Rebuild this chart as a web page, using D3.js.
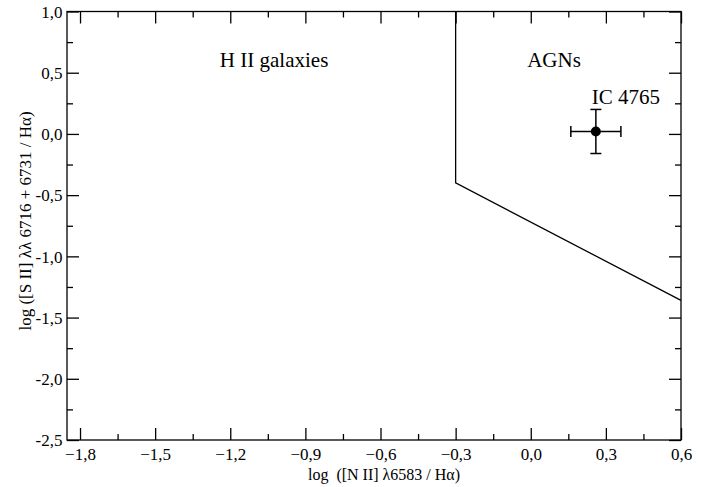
<!DOCTYPE html>
<html>
<head>
<meta charset="utf-8">
<script src="https://cdn.jsdelivr.net/npm/d3@7"></script>
<style>
  body { margin: 0; background: #fff; }
  text { font-family: "Liberation Serif", "DejaVu Serif", serif; fill: #000; }
</style>
</head>
<body>
<svg id="chart" width="724" height="487"></svg>
<script>
// axis ticks
const xTicks = [-1.8, -1.5, -1.2, -0.9, -0.6, -0.3, 0.0, 0.3, 0.6];
const xMinor = [-1.65, -1.35, -1.05, -0.75, -0.45, -0.15, 0.15, 0.45];
const yTicks = [1.0, 0.5, 0.0, -0.5, -1.0, -1.5, -2.0, -2.5];
const yMinor = [0.75, 0.25, -0.25, -0.75, -1.25, -1.75, -2.25];

// HII / AGN dividing line
const boundaryX = [-0.3, -0.3, 0.6];
const boundaryY = [1.0, -0.4, -1.36];

// regions
const regionNames = ["H II galaxies", "AGNs"];
const regionX = [-1.025, 0.093];
const regionY = [0.55, 0.55];

// measured object
const objName = ["IC 4765"];
const objX = [0.26];
const objY = [0.02];
const objErrX = [0.1];
const objErrY = [0.18];
const objLabelX = [0.38];
const objLabelY = [0.245];

const serif = '"Liberation Serif", "DejaVu Serif", serif';
const svg = d3.select("#chart");
const plotLeft = 67, plotRight = 681, plotTop = 11.5, plotBottom = 440;

const x = d3.scaleLinear().domain([-1.852, 0.6]).range([plotLeft, plotRight]);
const y = d3.scaleLinear().domain([-2.5, 1.0]).range([plotBottom, plotTop]);

const fmtX = d => (d < 0 ? "\u2212" : "") + Math.abs(d).toFixed(1).replace(".", ",");
const fmtY = d => (d < 0 ? "-" : "") + Math.abs(d).toFixed(1).replace(".", ",");

function styleAxis(g) {
  g.attr("font-family", serif).attr("font-size", 17);
  g.select(".domain").remove();
  g.selectAll("line").attr("stroke", "#000").attr("stroke-width", 1.3);
}

// major ticks, labelled on bottom and left
svg.append("g").attr("transform", `translate(0,${plotBottom})`)
  .call(d3.axisBottom(x).tickValues(xTicks).tickSizeInner(-12).tickPadding(20).tickFormat(fmtX))
  .call(styleAxis)
  .call(g => g.selectAll("text").attr("dy", 0));
svg.append("g").attr("transform", `translate(0,${plotBottom})`)
  .call(d3.axisBottom(x).tickValues(xMinor).tickSizeInner(-6).tickFormat(""))
  .call(styleAxis);
svg.append("g").attr("transform", `translate(0,${plotTop})`)
  .call(d3.axisTop(x).tickValues(xTicks).tickSizeInner(-12).tickFormat(""))
  .call(styleAxis);
svg.append("g").attr("transform", `translate(0,${plotTop})`)
  .call(d3.axisTop(x).tickValues(xMinor).tickSizeInner(-6).tickFormat(""))
  .call(styleAxis);

svg.append("g").attr("transform", `translate(${plotLeft},0)`)
  .call(d3.axisLeft(y).tickValues(yTicks).tickSizeInner(-12).tickFormat(fmtY))
  .call(styleAxis)
  .call(g => g.selectAll("text").attr("x", -4.5).attr("dy", "0.34em"));
svg.append("g").attr("transform", `translate(${plotLeft},0)`)
  .call(d3.axisLeft(y).tickValues(yMinor).tickSizeInner(-6).tickFormat(""))
  .call(styleAxis);
svg.append("g").attr("transform", `translate(${plotRight},0)`)
  .call(d3.axisRight(y).tickValues(yTicks).tickSizeInner(-12).tickFormat(""))
  .call(styleAxis);
svg.append("g").attr("transform", `translate(${plotRight},0)`)
  .call(d3.axisRight(y).tickValues(yMinor).tickSizeInner(-6).tickFormat(""))
  .call(styleAxis);

// frame
svg.append("rect")
  .attr("x", plotLeft).attr("y", plotTop)
  .attr("width", plotRight - plotLeft).attr("height", plotBottom - plotTop)
  .attr("fill", "none").attr("stroke", "#000").attr("stroke-width", 1.3);

// dividing line
const line = d3.line().x(d => x(d[0])).y(d => y(d[1]));
svg.append("path")
  .datum(d3.zip(boundaryX, boundaryY))
  .attr("d", line)
  .attr("fill", "none").attr("stroke", "#000").attr("stroke-width", 1.3);

// region labels
svg.selectAll(".region").data(regionNames).enter().append("text")
  .attr("class", "region")
  .attr("x", (d, i) => x(regionX[i]))
  .attr("y", (d, i) => y(regionY[i]))
  .attr("text-anchor", "middle")
  .attr("font-size", 21)
  .text(d => d);

// object with error bars
const obj = svg.selectAll(".obj").data(objName).enter().append("g").attr("class", "obj");
obj.append("line")
  .attr("x1", (d, i) => x(objX[i] - objErrX[i])).attr("x2", (d, i) => x(objX[i] + objErrX[i]))
  .attr("y1", (d, i) => y(objY[i])).attr("y2", (d, i) => y(objY[i]));
obj.append("line")
  .attr("x1", (d, i) => x(objX[i])).attr("x2", (d, i) => x(objX[i]))
  .attr("y1", (d, i) => y(objY[i] - objErrY[i])).attr("y2", (d, i) => y(objY[i] + objErrY[i]));
[-1, 1].forEach(s => {
  obj.append("line")
    .attr("x1", (d, i) => x(objX[i] + s * objErrX[i])).attr("x2", (d, i) => x(objX[i] + s * objErrX[i]))
    .attr("y1", (d, i) => y(objY[i]) - 5.5).attr("y2", (d, i) => y(objY[i]) + 5.5);
  obj.append("line")
    .attr("x1", (d, i) => x(objX[i]) - 5.5).attr("x2", (d, i) => x(objX[i]) + 5.5)
    .attr("y1", (d, i) => y(objY[i] + s * objErrY[i])).attr("y2", (d, i) => y(objY[i] + s * objErrY[i]));
});
obj.selectAll("line").attr("stroke", "#000").attr("stroke-width", 1.5);
obj.append("circle")
  .attr("cx", (d, i) => x(objX[i])).attr("cy", (d, i) => y(objY[i]))
  .attr("r", 5).attr("fill", "#000");
obj.append("text")
  .attr("x", (d, i) => x(objLabelX[i])).attr("y", (d, i) => y(objLabelY[i]))
  .attr("text-anchor", "middle").attr("font-size", 21)
  .text(d => d);

// axis titles
svg.append("text")
  .attr("x", 384).attr("y", 480)
  .attr("text-anchor", "middle").attr("font-size", 16)
  .attr("xml:space", "preserve")
  .text("log  ([N II] \u03bb6583 / H\u03b1)");
svg.append("text")
  .attr("transform", "translate(31,221) rotate(-90)")
  .attr("text-anchor", "middle").attr("font-size", 17)
  .text("log ([S II] \u03bb\u03bb 6716 + 6731 / H\u03b1)");
</script>
</body>
</html>
